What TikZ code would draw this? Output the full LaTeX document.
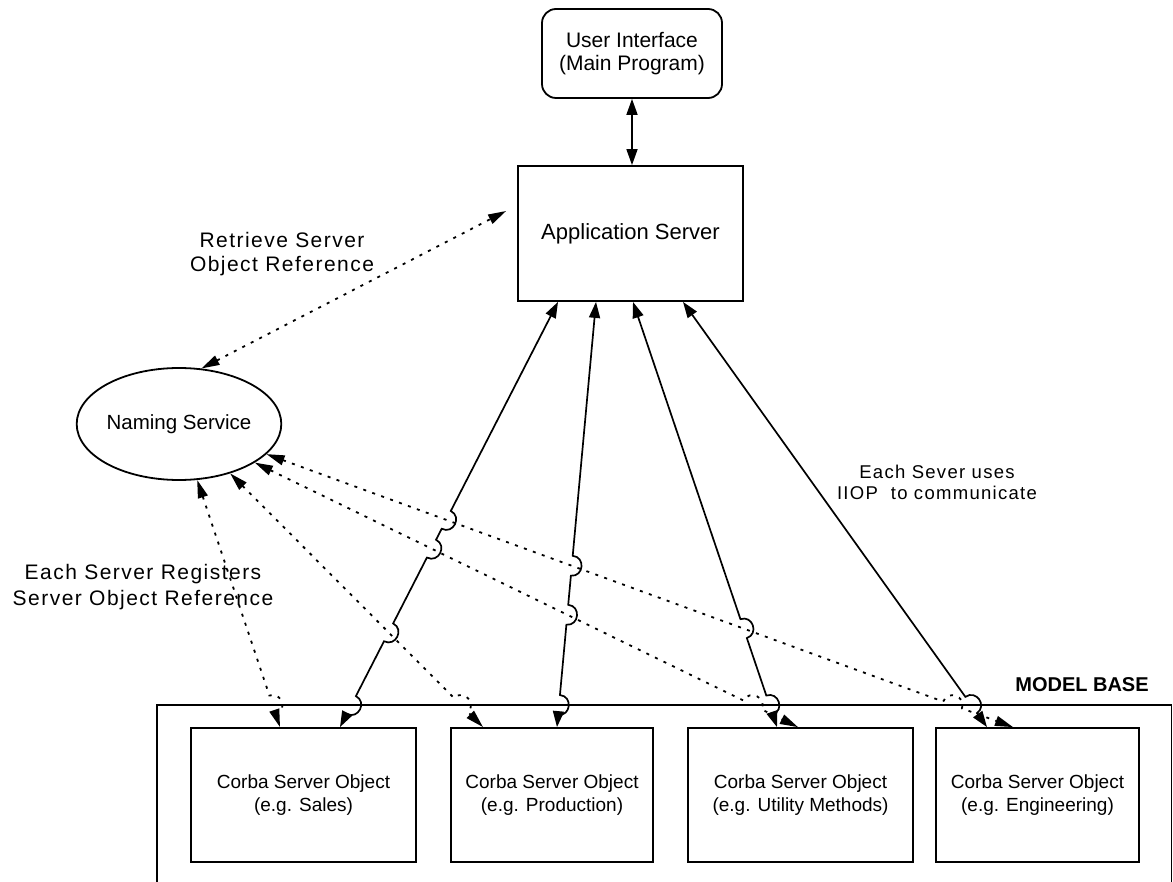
\documentclass[tikz,border=0pt]{standalone}
\usepackage{fontspec}
\setmainfont{Liberation Sans}
\newfontfamily\lblfont[LetterSpace=7]{Liberation Sans}
\usetikzlibrary{arrows.meta,calc,intersections,shapes.geometric}

\newcommand{\jmpr}{10pt}
\newcommand{\jmpk}{13pt}
% #1 crossing point, #2 start of line, #3 end of line, #4 name prefix
\newcommand{\mkjump}[4]{%
  \coordinate (#4a) at ($(#1)!\jmpr!(#2)$);
  \coordinate (#4b) at ($(#1)!\jmpr!(#3)$);
  \coordinate (#4c) at ($(#4a)!\jmpk!90:(#1)$);
  \coordinate (#4d) at ($(#4b)!\jmpk!-90:(#1)$);
}

\tikzset{
  box/.style={draw, line width=1.8pt, align=center, inner sep=0pt,
    font=\fontsize{19pt}{23pt}\selectfont},
  solidc/.style={line width=1.7pt,
    {Triangle[length=16pt,width=11pt]}-{Triangle[length=16pt,width=11pt]}},
  dotc/.style={line width=1.8pt, dash pattern=on 3pt off 6.5pt,
    {Triangle[length=18pt,width=10pt]}-{Triangle[length=18pt,width=10pt]}},
  lbl/.style={align=center, inner sep=0pt},
}

\begin{document}
\begin{tikzpicture}[x=1pt,y=-1pt]
\useasboundingbox (0,0) rectangle (1173,882);

% nodes
\node[box, minimum width=180pt, minimum height=89pt, rounded corners=14pt,
  font=\fontsize{21pt}{23pt}\selectfont] (ui) at (632,53.5) {User Interface\\(Main Program)};
\node[box, minimum width=225pt, minimum height=135pt,
  font=\fontsize{22pt}{26pt}\selectfont] (app) at (630.5,233.5) {Application Server};
\node[draw, ellipse, line width=1.8pt, inner sep=0pt, minimum width=204pt, minimum height=112pt,
  font=\fontsize{20.5pt}{23pt}\selectfont] (ns) at (179,424) {Naming Service};

\node[box, minimum width=225pt, minimum height=134pt] (sales) at (303.5,795) {Corba Server Object\\(e.g. Sales)};
\node[box, minimum width=202pt, minimum height=134pt] (prod) at (552,795) {Corba Server Object\\(e.g. Production)};
\node[box, minimum width=225pt, minimum height=134pt] (util) at (800.5,795) {Corba Server Object\\(e.g. Utility Methods)};
\node[box, minimum width=203pt, minimum height=134pt] (eng) at (1037.5,795) {Corba Server Object\\(e.g. Engineering)};

% model base frame
\draw[line width=1.8pt] (157,895) -- (157,705) -- (1171.5,705) -- (1171.5,895);
\path[name path=F] (140,705) -- (1180,705);
\node[lbl, font=\bfseries\fontsize{20pt}{23pt}\selectfont] (mb) at (1082,685) {MODEL BASE};

% labels
\node[lbl, font=\lblfont\fontsize{21pt}{24pt}\selectfont] (lret) at (282,254) {Retrieve Server\\Object Reference};
\node[lbl, font=\lblfont\fontsize{21pt}{26pt}\selectfont] (lreg) at (143,587) {Each Server Registers\\Server Object Reference};
\node[lbl, font=\lblfont\fontsize{18.5pt}{21pt}\selectfont] (liiop) at (937,482) {Each Sever uses\\IIOP\ \ to communicate};

% end points
\coordinate (s1t) at ($(app.south)+(-72.5,0)$);
\coordinate (s2t) at ($(app.south)+(-34.5,0)$);
\coordinate (s3t) at ($(app.south)+(2.5,0)$);
\coordinate (s4t) at ($(app.south)+(52.5,0)$);
\coordinate (s1b) at ($(sales.north)+(36.5,0)$);
\coordinate (s2b) at ($(prod.north)+(5,0)$);
\coordinate (s3b) at ($(util.north)+(-23.5,0)$);
\coordinate (s4b) at ($(eng.north)+(-50.5,0)$);
\coordinate (d1t) at (ns.-72);
\coordinate (d2t) at (ns.-44);
\coordinate (d3t) at (ns.-27);
\coordinate (d4t) at (ns.-19);
\coordinate (d1b) at ($(sales.north)+(-23.5,0)$);
\coordinate (d2b) at ($(prod.north)+(-69,0)$);
\coordinate (d3b) at ($(util.north)+(-2.5,0)$);
\coordinate (d4b) at ($(eng.north)+(-24.5,0)$);
\coordinate (rt) at ($(app.west)+(-11,-22.5)$);

% named paths
\path[name path=S1] (s1t) -- (s1b);
\path[name path=S2] (s2t) -- (s2b);
\path[name path=S3] (s3t) -- (s3b);
\path[name path=S4] (s4t) -- (s4b);
\path[name path=D1] (d1t) -- (d1b);
\path[name path=D2] (d2t) -- (d2b);
\path[name path=D3] (d3t) -- (d3b);
\path[name path=D4] (d4t) -- (d4b);

% intersections
\path[name intersections={of=S1 and D4,by=i14}];
\path[name intersections={of=S1 and D3,by=i13}];
\path[name intersections={of=S1 and D2,by=i12}];
\path[name intersections={of=S1 and F,by=i1f}];
\path[name intersections={of=S2 and D4,by=i24}];
\path[name intersections={of=S2 and D3,by=i23}];
\path[name intersections={of=S2 and F,by=i2f}];
\path[name intersections={of=S3 and D4,by=i34}];
\path[name intersections={of=S3 and F,by=i3f}];
\path[name intersections={of=S4 and F,by=i4f}];
\path[name intersections={of=D1 and F,by=e1f}];
\path[name intersections={of=D2 and F,by=e2f}];
\path[name intersections={of=D3 and F,by=e3f}];
\path[name intersections={of=D4 and F,by=e4f}];

\mkjump{i14}{s1t}{s1b}{Ja}
\mkjump{i13}{s1t}{s1b}{Jb}
\mkjump{i12}{s1t}{s1b}{Jc}
\mkjump{i1f}{s1t}{s1b}{Jd}
\mkjump{i24}{s2t}{s2b}{Je}
\mkjump{i23}{s2t}{s2b}{Jf}
\mkjump{i2f}{s2t}{s2b}{Jg}
\mkjump{i34}{s3t}{s3b}{Jh}
\mkjump{i3f}{s3t}{s3b}{Ji}
\mkjump{i4f}{s4t}{s4b}{Jj}
\mkjump{e1f}{d1t}{d1b}{Jk}
\mkjump{e2f}{d2t}{d2b}{Jl}
\mkjump{e3f}{d3t}{d3b}{Jm}
\mkjump{e4f}{d4t}{d4b}{Jn}

% connectors
\draw[solidc] (ui.south) -- (ui.south |- app.north);
\draw[dotc] (ns.68) -- (rt);

\draw[solidc] (s1t) -- (Jaa) .. controls (Jac) and (Jad) .. (Jab)
  -- (Jba) .. controls (Jbc) and (Jbd) .. (Jbb)
  -- (Jca) .. controls (Jcc) and (Jcd) .. (Jcb)
  -- (Jda) .. controls (Jdc) and (Jdd) .. (Jdb) -- (s1b);
\draw[solidc] (s2t) -- (Jea) .. controls (Jec) and (Jed) .. (Jeb)
  -- (Jfa) .. controls (Jfc) and (Jfd) .. (Jfb)
  -- (Jga) .. controls (Jgc) and (Jgd) .. (Jgb) -- (s2b);
\draw[solidc] (s3t) -- (Jha) .. controls (Jhc) and (Jhd) .. (Jhb)
  -- (Jia) .. controls (Jic) and (Jid) .. (Jib) -- (s3b);
\draw[solidc] (s4t) -- (Jja) .. controls (Jjc) and (Jjd) .. (Jjb) -- (s4b);

\draw[dotc] (d1t) -- (Jka) .. controls (Jkc) and (Jkd) .. (Jkb) -- (d1b);
\draw[dotc] (d2t) -- (Jla) .. controls (Jlc) and (Jld) .. (Jlb) -- (d2b);
\draw[dotc] (d3t) -- (Jma) .. controls (Jmc) and (Jmd) .. (Jmb) -- (d3b);
\draw[dotc] (d4t) -- (Jna) .. controls (Jnc) and (Jnd) .. (Jnb) -- (d4b);
\end{tikzpicture}
\end{document}
